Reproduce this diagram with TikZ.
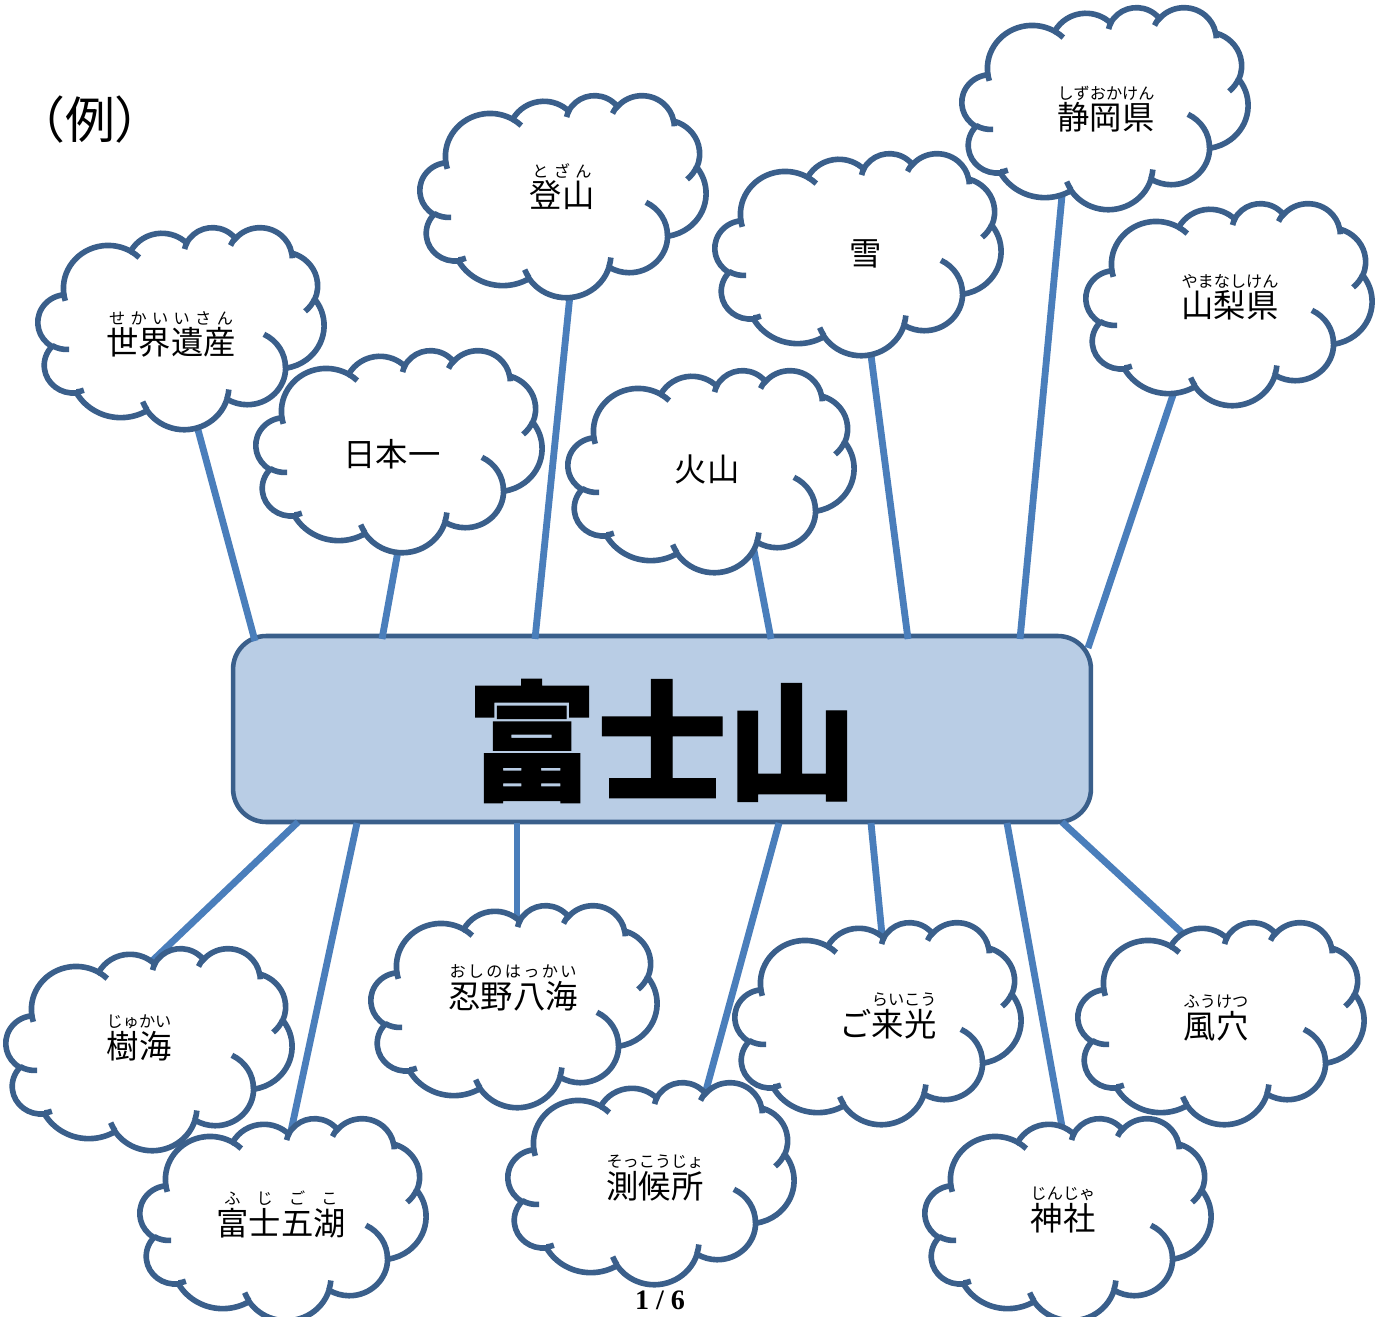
\documentclass[tikz,border=0pt]{standalone}
\usepackage{fontspec}
\setmainfont{Noto Sans CJK JP}
\newfontfamily\popfont[BoldFeatures={FakeBold=1}]{Noto Sans CJK JP}
\newfontfamily\pagefont{Liberation Serif}

\definecolor{cloudblue}{HTML}{3A5F8B}
\definecolor{linkblue}{HTML}{4A7EBB}
\definecolor{hubfill}{HTML}{B9CDE5}

% ruby: small reading spread over the word
\makeatletter
\newlength\rbbase
\newlength\rbruby
\newcommand\rubyfont{\fontsize{9.2pt}{10pt}\selectfont}
\newcommand\spreadchars[1]{\@tfor\rb@c:=#1\do{\hfil\rb@c\hfil}}
\newcommand\rb[2]{%
  \settowidth\rbbase{#2}%
  \settowidth\rbruby{\rubyfont #1}%
  \ifdim\rbruby<\rbbase \rbruby=\rbbase\fi
  \begin{tabular}[b]{@{}c@{}}%
    \makebox[\rbruby][s]{\rubyfont\spreadchars{#1}}\\[-4.5pt]%
    #2%
  \end{tabular}}
\makeatother

% one elliptic arc, angles as seen (converted to parametric)
\newcommand\oarc[4]{arc[x radius=#1, y radius=#2,
  start angle={#3+asin(sin(atan2(#1*sin(#3),#2*cos(#3))-(#3)))},
  end angle={(#3+#4)+asin(sin(atan2(#1*sin(#3+#4),#2*cos(#3+#4))-(#3+#4)))}]}

% cloud outline, top left corner at #1,#2
\newcommand\cloudshape[2]{%
  \begin{scope}[shift={(#1,#2)}, xscale=6.62, yscale=4.676]
    \filldraw[cloudline] (3.900,14.370)
      \oarc{6.753}{9.190}{-190.4875}{123.7805}
      \oarc{5.333}{7.267}{-144.1024}{89.9452}
      \oarc{4.365}{5.945}{-145.8079}{99.7230}
      \oarc{4.857}{6.595}{-130.9861}{117.2417}
      \oarc{5.333}{7.273}{-78.7089}{109.0269}
      \oarc{6.775}{9.220}{-46.2673}{130.2690}
      \oarc{5.785}{7.867}{0.6250}{114.0333}
      \oarc{6.752}{9.215}{22.4516}{115.1726}
      \oarc{7.720}{10.543}{66.2426}{75.7110}
      \oarc{4.360}{5.918}{-274.9421}{146.7356}
      \oarc{4.345}{5.945}{-246.8285}{152.5189} -- cycle;
    \draw[hookline]
      (4.693,26.177) \oarc{4.345}{5.945}{86.7420}{26.4295}
      (6.928,34.899) \oarc{4.360}{5.918}{73.6105}{11.4475}
      (16.478,39.090) \oarc{6.752}{9.215}{137.6242}{14.0811}
      (28.827,34.751) \oarc{6.752}{9.215}{6.4533}{15.9984}
      (34.129,22.954) \oarc{5.785}{7.867}{-70.2924}{70.9174}
      (41.798,15.354) \oarc{5.333}{7.273}{30.3180}{27.7515}
      (38.324,5.426) \oarc{4.857}{6.595}{-13.7443}{14.8589}
      (29.078,3.952) \oarc{4.857}{6.595}{-149.1815}{18.1954}
      (22.141,4.720) \oarc{4.365}{5.945}{-163.4943}{17.6864}
      (14.000,5.192) \oarc{6.753}{9.190}{-66.7070}{12.3194}
      (4.127,15.789) \oarc{6.753}{9.190}{157.6544}{11.8582};
  \end{scope}}

\begin{document}
\begin{tikzpicture}[x=0.02cm, y=-0.02cm,
    cloudline/.style={draw=cloudblue, line width=3.2pt, fill=white},
    hookline/.style={draw=cloudblue, line width=3.2pt},
    link/.style={draw=linkblue, line width=3.9pt},
    word/.style={font=\fontsize{18.4pt}{22pt}\selectfont, inner sep=0pt, anchor=base},
    hub/.style={draw=cloudblue, line width=2.6pt, fill=hubfill, rounded corners=0.66cm,
      minimum width=17.16cm, minimum height=3.72cm, inner sep=0pt}]

  \useasboundingbox (0,0) rectangle (1382,1317);

  \node[word, font=\fontsize{28.4pt}{32pt}\selectfont] (rei) at (90,139) {（例）};

  % centre box
  \node[hub] (fuji) at (662,729) {};
  \node[font=\popfont\bfseries\fontsize{74pt}{80pt}\selectfont, inner sep=0pt] (fujiname) at (662,741) {富士山};

  % links: a on the box, b inside the cloud
  \coordinate (sekai-a) at (255,641);     \coordinate (sekai-b) at (194,415);
  \coordinate (nihon-a) at (382,639);     \coordinate (nihon-b) at (400,540);
  \coordinate (tozan-a) at (535,639);     \coordinate (tozan-b) at (571,285);
  \coordinate (kazan-a) at (771,639);     \coordinate (kazan-b) at (751,535);
  \coordinate (yuki-a) at (908,639);      \coordinate (yuki-b) at (869,340);
  \coordinate (shizuoka-a) at (1020,639); \coordinate (shizuoka-b) at (1063,185);
  \coordinate (yamanashi-a) at (1088,648);\coordinate (yamanashi-b) at (1178,380);
  \coordinate (jukai-a) at (298,822);     \coordinate (jukai-b) at (150,963);
  \coordinate (goko-a) at (357,823);      \coordinate (goko-b) at (288,1145);
  \coordinate (oshino-a) at (517,823);    \coordinate (oshino-b) at (517,920);
  \coordinate (sokkou-a) at (779,823);    \coordinate (sokkou-b) at (702,1105);
  \coordinate (raikou-a) at (871,823);    \coordinate (raikou-b) at (883,945);
  \coordinate (jinja-a) at (1007,823);    \coordinate (jinja-b) at (1065,1143);
  \coordinate (fuketsu-a) at (1062,822);  \coordinate (fuketsu-b) at (1193,943);
  \foreach \w in {sekai,nihon,tozan,kazan,yuki,shizuoka,yamanashi,
                  jukai,goko,oshino,sokkou,raikou,jinja,fuketsu}
    \draw[link] (\w-a) -- (\w-b);

  % clouds
  \cloudshape{962}{7}
  \node[word] (shizuoka) at (1106,130) {\rb{しずおかけん}{静岡県}};
  \cloudshape{420}{95}
  \node[word] (tozan) at (562,208) {\rb{とざん}{登山}};
  \cloudshape{715}{153}
  \node[word] (yuki) at (866,266) {雪};
  \cloudshape{1086}{203}
  \node[word] (yamanashi) at (1230,318) {\rb{やまなしけん}{山梨県}};
  \cloudshape{38}{227}
  \node[word] (sekai) at (171,355) {\rb{せかいいさん}{世界遺産}};
  \cloudshape{256}{350}
  \node[word] (nihon) at (392,466) {日本一};
  \cloudshape{568}{370}
  \node[word] (kazan) at (707,481) {火山};
  \cloudshape{371}{905}
  \node[word] (oshino) at (513,1008) {\rb{おしのはっかい}{忍野八海}};
  \cloudshape{735}{922}
  \node[word] (raikou) at (888,1036) {ご\rb{らいこう}{来光}};
  \cloudshape{1078}{922}
  \node[word] (fuketsu) at (1216,1038) {\rb{ふうけつ}{風穴}};
  \cloudshape{6}{948}
  \node[word] (jukai) at (139,1058) {\rb{じゅかい}{樹海}};
  \cloudshape{508}{1082}
  \node[word] (sokkou) at (655,1198) {\rb{そっこうじょ}{測候所}};
  \cloudshape{140}{1118}
  \node[word] (goko) at (281,1235) {\rb{ふじごこ}{富士五湖}};
  \cloudshape{925}{1118}
  \node[word] (jinja) at (1063,1230) {\rb{じんじゃ}{神社}};

  \node[anchor=base, inner sep=0pt, font=\pagefont\bfseries\fontsize{16pt}{18pt}\selectfont] (page) at (660,1309) {1 / 6};
\end{tikzpicture}
\end{document}
